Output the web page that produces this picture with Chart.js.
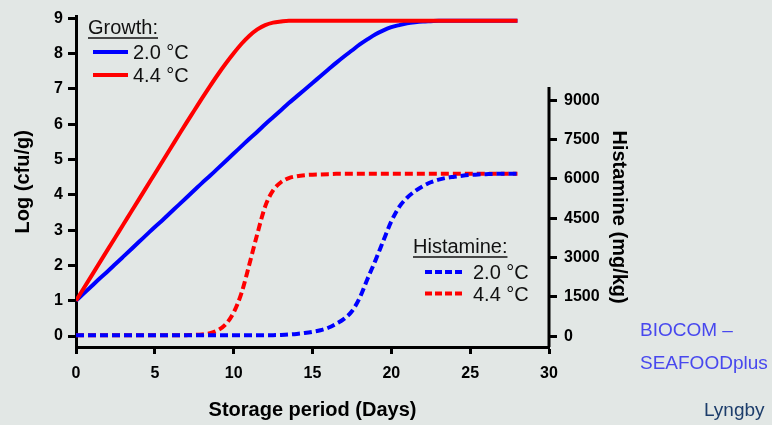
<!DOCTYPE html>
<html>
<head>
<meta charset="utf-8">
<script src="https://cdn.jsdelivr.net/npm/chart.js@4.4.0/dist/chart.umd.min.js"></script>
<style>
  html, body { margin: 0; padding: 0; background: #e2e7e5; }
  #wrap { position: relative; width: 772px; height: 425px; overflow: hidden; }
  canvas { position: absolute; left: 0; top: 0; }
  .note { position: absolute; font-family: "Liberation Sans", Arial, sans-serif; font-size: 19px; white-space: nowrap; }
</style>
</head>
<body>
<div id="wrap">
  <canvas id="c" width="772" height="425"></canvas>
  <div class="note" style="left:640px; top:319px; color:#4848ee;">BIOCOM –</div>
  <div class="note" style="left:640px; top:352px; color:#4848ee;">SEAFOODplus</div>
  <div class="note" style="left:704px; top:399px; color:#1d3d6b;">Lyngby</div>
</div>
<script>
// ---- data ----
const days = [0,0.5,1,1.5,2,2.5,3,3.5,4,4.5,5,5.5,6,6.5,7,7.5,8,8.5,9,9.5,10,10.5,11,11.5,12,12.5,13,13.5,14,14.5,15,15.5,16,16.5,17,17.5,18,18.5,19,19.5,20,20.5,21,21.5,22,22.5,23,23.5,24,24.5,25,25.5,26,26.5,27,27.5,28];

// Growth, log cfu/g
const growth20 = [1.00,1.21,1.42,1.63,1.83,2.04,2.25,2.46,2.67,2.88,3.09,3.29,3.50,3.71,3.92,4.13,4.34,4.54,4.75,4.96,5.17,5.38,5.59,5.79,6.00,6.20,6.40,6.60,6.79,6.98,7.17,7.36,7.55,7.74,7.92,8.09,8.26,8.41,8.55,8.66,8.75,8.81,8.86,8.89,8.91,8.92,8.93,8.93,8.93,8.93,8.93,8.93,8.93,8.93,8.93,8.93,8.93];
const growth44 = [1.00,1.36,1.72,2.08,2.44,2.80,3.16,3.52,3.88,4.24,4.60,4.96,5.32,5.68,6.04,6.39,6.74,7.08,7.41,7.72,8.01,8.28,8.51,8.69,8.81,8.88,8.91,8.93,8.93,8.93,8.93,8.93,8.93,8.93,8.93,8.93,8.93,8.93,8.93,8.93,8.93,8.93,8.93,8.93,8.93,8.93,8.93,8.93,8.93,8.93,8.93,8.93,8.93,8.93,8.93,8.93,8.93];

// Histamine, mg/kg
const hist20 = [30,30,30,30,30,30,30,30,30,30,30,30,30,30,30,30,30,30,30,30,30,30,30,30,30,35,45,60,85,120,165,225,320,470,660,950,1470,2200,2900,3650,4380,4930,5280,5530,5720,5870,5970,6040,6080,6120,6150,6170,6180,6190,6190,6190,6190];
const hist44 = [30,30,30,30,30,30,30,30,30,30,30,30,32,34,38,45,65,115,225,455,900,1650,2750,3900,4950,5560,5870,6030,6100,6140,6160,6170,6180,6190,6190,6190,6190,6190,6190,6190,6190,6190,6190,6190,6190,6190,6190,6190,6190,6190,6190,6190,6190,6190,6190,6190,6190];

// tick labels
const xTicks = [0,5,10,15,20,25,30];
const yTicks = [0,1,2,3,4,5,6,7,8,9];
const y2Ticks = [0,1500,3000,4500,6000,7500,9000];
const y2AxisTop = 9500;

const FONT = '"Liberation Sans", Arial, Helvetica, sans-serif';

const pts = (ys) => days.map((d, i) => ({x: d, y: ys[i]}));

const overlay = {
  id: 'overlay',
  afterDraw(chart) {
    const ctx = chart.ctx;
    const y2 = chart.scales.y2;
    ctx.save();
    // right axis line (only up to the visible top)
    ctx.strokeStyle = '#000';
    ctx.lineWidth = 3;
    const yb = y2.getPixelForValue(y2.min);
    const yt = y2.getPixelForValue(y2AxisTop);
    ctx.beginPath();
    ctx.moveTo(y2.left, yb);
    ctx.lineTo(y2.left, yt);
    ctx.stroke();

    // right axis title
    ctx.save();
    ctx.translate(619, (yb + yt) / 2);
    ctx.rotate(Math.PI / 2);
    ctx.font = 'bold 20px ' + FONT;
    ctx.fillStyle = '#000';
    ctx.textAlign = 'center';
    ctx.textBaseline = 'middle';
    ctx.fillText('Histamine (mg/kg)', 0, 0);
    ctx.restore();

    // legends
    ctx.font = '20px ' + FONT;
    ctx.fillStyle = '#111';
    ctx.textAlign = 'left';
    ctx.textBaseline = 'alphabetic';

    function header(txt, x, y) {
      ctx.fillText(txt, x, y);
      const w = ctx.measureText(txt).width;
      ctx.lineWidth = 1.6;
      ctx.strokeStyle = '#111';
      ctx.setLineDash([]);
      ctx.beginPath();
      ctx.moveTo(x, y + 4);
      ctx.lineTo(x + w, y + 4);
      ctx.stroke();
    }
    function entry(color, dashed, x1, x2, y, tx, label) {
      ctx.strokeStyle = color;
      ctx.lineWidth = 4;
      ctx.setLineDash(dashed ? [7, 3] : []);
      ctx.beginPath();
      ctx.moveTo(x1, y);
      ctx.lineTo(x2, y);
      ctx.stroke();
      ctx.setLineDash([]);
      ctx.fillText(label, tx, y + 7);
    }
    header('Growth:', 88, 34);
    entry('#0000ff', false, 93, 128, 52, 133, '2.0 °C');
    entry('#ff0000', false, 93, 128, 75, 133, '4.4 °C');
    header('Histamine:', 413, 253);
    entry('#0000ff', true, 425, 462, 272, 473, '2.0 °C');
    entry('#ff0000', true, 425, 462, 293.5, 473, '4.4 °C');
    ctx.restore();
  }
};

const tickFont = {family: FONT, size: 16, weight: 'bold'};
const plain = (v) => String(v);

new Chart(document.getElementById('c'), {
  type: 'line',
  data: {
    datasets: [
      {label: 'Growth 4.4 °C', data: pts(growth44), yAxisID: 'y', borderColor: '#ff0000', borderWidth: 4, pointRadius: 0, cubicInterpolationMode: 'monotone', order: 1},
      {label: 'Growth 2.0 °C', data: pts(growth20), yAxisID: 'y', borderColor: '#0000ff', borderWidth: 4, pointRadius: 0, cubicInterpolationMode: 'monotone', order: 2},
      {label: 'Histamine 2.0 °C', data: pts(hist20), yAxisID: 'y2', borderColor: '#0000ff', borderWidth: 4, borderDash: [8, 4], pointRadius: 0, cubicInterpolationMode: 'monotone', order: 3},
      {label: 'Histamine 4.4 °C', data: pts(hist44), yAxisID: 'y2', borderColor: '#ff0000', borderWidth: 4, borderDash: [8, 4], pointRadius: 0, cubicInterpolationMode: 'monotone', order: 4}
    ]
  },
  options: {
    responsive: false,
    animation: false,
    layout: {padding: {left: 0, right: 0, top: 13, bottom: 0}},
    plugins: {legend: {display: false}, tooltip: {enabled: false}},
    scales: {
      x: {
        type: 'linear', min: 0, max: 30,
        afterBuildTicks: s => { s.ticks = xTicks.map(v => ({value: v})); },
        afterFit: s => { s.height = 78; },
        ticks: {font: tickFont, color: '#000', padding: 10, maxRotation: 0, callback: plain},
        grid: {drawOnChartArea: false, drawTicks: true, tickLength: 7, tickWidth: 3, tickColor: '#000'},
        border: {display: true, color: '#000', width: 3},
        title: {display: true, text: 'Storage period (Days)', color: '#000', font: {family: FONT, size: 20, weight: 'bold'}, padding: {top: 3, bottom: 3}}
      },
      y: {
        position: 'left', min: -0.31, max: 9.05,
        afterBuildTicks: s => { s.ticks = yTicks.map(v => ({value: v})); },
        afterFit: s => { s.width = 76; },
        ticks: {font: tickFont, color: '#000', padding: 5, callback: plain},
        grid: {drawOnChartArea: false, drawTicks: true, tickLength: 8, tickWidth: 3, tickColor: '#000'},
        border: {display: true, color: '#000', width: 3},
        title: {display: true, text: 'Log (cfu/g)', color: '#000', font: {family: FONT, size: 20, weight: 'bold'}, padding: {top: 11, bottom: 11}}
      },
      y2: {
        position: 'right', min: -415, max: 12190,
        afterBuildTicks: s => { s.ticks = y2Ticks.map(v => ({value: v})); },
        afterFit: s => { s.width = 223; },
        ticks: {font: tickFont, color: '#000', padding: 7, callback: plain},
        grid: {drawOnChartArea: false, drawTicks: true, tickLength: 8, tickWidth: 3, tickColor: '#000'},
        border: {display: false}
      }
    }
  },
  plugins: [overlay]
});
</script>
</body>
</html>
